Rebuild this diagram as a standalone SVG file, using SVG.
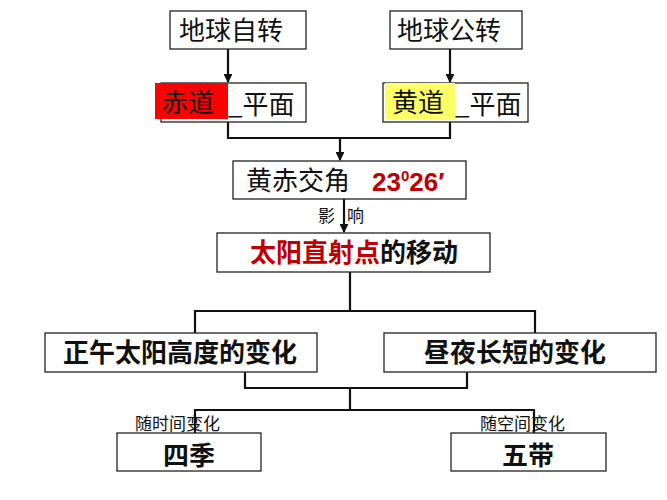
<svg xmlns="http://www.w3.org/2000/svg" width="667" height="500" viewBox="0 0 667 500">
<style>
.b{fill:#fff;stroke:#222;stroke-width:1.3}
.t{font-family:"Noto Sans CJK SC",sans-serif;font-size:26px;fill:#111}
.bt{font-family:"Noto Sans CJK SC",sans-serif;font-size:26px;font-weight:bold;fill:#111}
.s{font-family:"Noto Sans CJK SC",sans-serif;font-size:17px;fill:#111}
.c{fill:none;stroke:#111;stroke-width:2.2}
</style>
<defs><marker id="a" viewBox="0 0 10 10" refX="9" refY="5" markerWidth="4" markerHeight="4" orient="auto"><path d="M0,0L10,5L0,10z" fill="#111"/></marker></defs>
<rect width="667" height="500" fill="#fff"/>
<g id="connectors" class="c">
<path d="M228,49V82" marker-end="url(#a)"/>
<path d="M450,49V82" marker-end="url(#a)"/>
<path d="M228,122V138H450V122"/>
<path d="M340,138V160" marker-end="url(#a)"/>
<path d="M344,199V232" marker-end="url(#a)"/>
<path d="M350,272V311M195,333V311H535V333"/>
<path d="M245,372V388H467V372M350,388V410M195,433V410H534V433"/>
</g>
<g id="n1"><rect class="b" x="170" y="11" width="136" height="38"/><text class="t" x="179" y="40">地球自转</text></g>
<g id="n2"><rect class="b" x="390" y="11" width="132" height="38"/><text class="t" x="397" y="40">地球公转</text></g>
<g id="n3"><rect class="b" x="161" y="83" width="145" height="39"/><rect x="155" y="83" width="73" height="36" fill="#f00"/><text class="t" x="162" y="112">赤道</text><text class="t" x="228" y="114">_平面</text></g>
<g id="n4"><rect class="b" x="383" y="83" width="145" height="39"/><rect x="385" y="83" width="70" height="36" fill="#ffff66"/><text class="t" x="392" y="112">黄道</text><text class="t" x="455" y="114">_平面</text></g>
<g id="n5"><rect class="b" x="233" y="161" width="233" height="38"/><text class="t" x="246" y="190">黄赤交角</text><text x="372" y="191" font-family="'Liberation Sans',sans-serif" font-size="26" font-weight="bold" fill="#c00000">23<tspan font-size="15" dy="-10">0</tspan><tspan dy="10">26′</tspan></text></g>
<text class="s" x="318" y="222" font-size="19">影</text><text class="s" x="347" y="222" font-size="19">响</text>
<g id="n6"><rect class="b" x="217" y="233" width="273" height="39"/><text class="bt" x="250" y="262"><tspan fill="#c00000">太阳直射点</tspan>的移动</text></g>
<g id="n7"><rect class="b" x="45" y="333" width="272" height="39"/><text class="bt" x="180" y="362" text-anchor="middle">正午太阳高度的变化</text></g>
<g id="n8"><rect class="b" x="384" y="333" width="272" height="39"/><text class="bt" x="515" y="362" text-anchor="middle">昼夜长短的变化</text></g>
<text class="s" x="135" y="430">随时间变化</text>
<text class="s" x="480" y="430">随空间变化</text>
<g id="n9"><rect class="b" x="117" y="433" width="144" height="38"/><text class="bt" x="189" y="465" text-anchor="middle">四季</text></g>
<g id="n10"><rect class="b" x="451" y="433" width="155" height="38"/><text class="bt" x="528" y="465" text-anchor="middle">五带</text></g>
</svg>
